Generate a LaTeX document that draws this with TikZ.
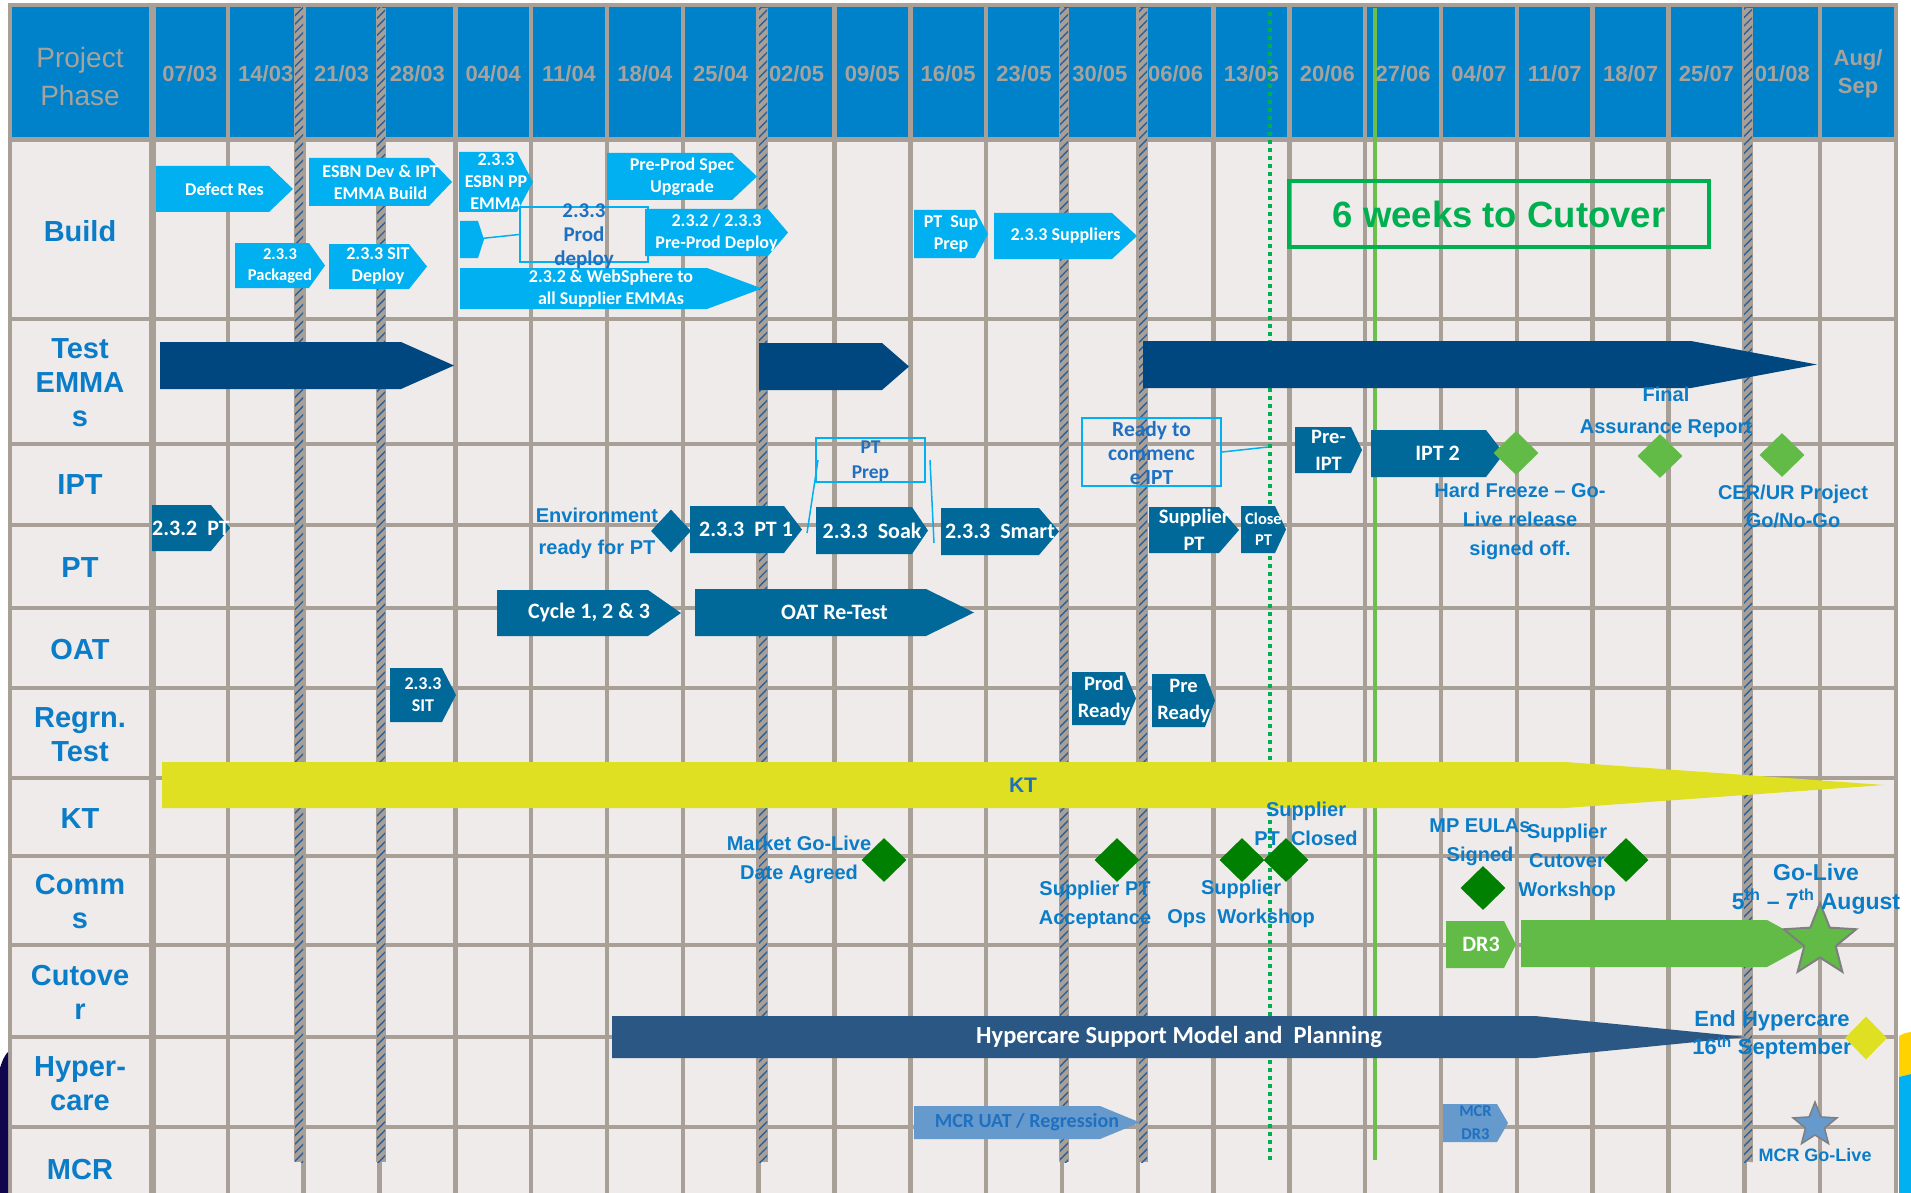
\documentclass[tikz,border=0pt]{standalone}
\usepackage{fontspec}
\setmainfont{Liberation Sans}
\newfontfamily\calf{Carlito}
\usetikzlibrary{shapes.geometric,patterns.meta}

\definecolor{hdrblue}{HTML}{0082CA}
\definecolor{gridc}{HTML}{A89F97}
\definecolor{cellbg}{HTML}{EFEBEA}
\definecolor{hdrtxt}{HTML}{A8A29C}
\definecolor{labblue}{HTML}{0A7CC8}
\definecolor{lblue}{HTML}{00B0F0}
\definecolor{tealb}{HTML}{00699A}
\definecolor{navyb}{HTML}{00467F}
\definecolor{hcblue}{HTML}{2A5783}
\definecolor{ktyel}{HTML}{DEE021}
\definecolor{dgreen}{HTML}{008000}
\definecolor{lgreen}{HTML}{62BB46}
\definecolor{mcrblue}{HTML}{6699CC}
\definecolor{wkgreen}{HTML}{00B050}
\definecolor{vgreen}{HTML}{6CBF4A}
\definecolor{hatchblue}{HTML}{2B5F9A}
\definecolor{boxtxt}{HTML}{1F70C1}
\definecolor{starline}{HTML}{7F7F7F}
\definecolor{decnavy}{HTML}{10064E}
\definecolor{decyel}{HTML}{FFD200}

% #1 fill, #2 text style, #3 name, #4 x1, #5 y1, #6 x slant start, #7 x tip, #8 y2, #9 text
\newcommand\ganttarrow[9]{%
  \fill[#1] (#4,#5) -- (#6,#5) -- (#7,{(#5+#8)/2}) -- (#6,#8) -- (#4,#8) -- cycle;
  \node[#2] (#3) at ({(#4+#7)/2},{(#5+#8)/2}) {#9};}

\tikzset{
  bt/.style={font=\calf\bfseries\fontsize{18}{22}\selectfont, text=white, align=center, inner sep=0pt},
  bts/.style={bt, font=\calf\bfseries\fontsize{16.5}{21}\selectfont},
  btm/.style={bt, font=\calf\bfseries\fontsize{20.5}{27}\selectfont},
  btl/.style={bt, font=\calf\bfseries\fontsize{22}{26}\selectfont},
  bxt/.style={font=\calf\bfseries\fontsize{21}{24}\selectfont, text=boxtxt, align=center, inner sep=0pt},
  hct/.style={bt, font=\calf\bfseries\fontsize{24.5}{28}\selectfont},
  mcrt/.style={font=\calf\bfseries\fontsize{20}{24}\selectfont, text=boxtxt, align=center, inner sep=0pt},
  mcrs/.style={font=\calf\bfseries\fontsize{16.5}{23}\selectfont, text=boxtxt, align=center, inner sep=0pt},
  ktt/.style={font=\bfseries\fontsize{21}{24}\selectfont, text=boxtxt, inner sep=0pt},
  rowlab/.style={font=\bfseries\fontsize{29}{34}\selectfont, text=labblue, align=center, inner sep=0pt},
  hdrdate/.style={font=\bfseries\fontsize{22}{28}\selectfont, text=hdrtxt, align=center, inner sep=0pt},
  hdrmain/.style={font=\fontsize{28}{38}\selectfont, text=hdrtxt, align=center, inner sep=0pt},
  note/.style={font=\bfseries\fontsize{20}{29}\selectfont, text=labblue, align=center, inner sep=0pt},
  noteb/.style={note, font=\bfseries\fontsize{23}{29}\selectfont},
  notes/.style={note, font=\bfseries\fontsize{18}{22}\selectfont},
  outbox/.style={draw=lblue, line width=2pt, inner sep=0pt},
  callout/.style={lblue, line width=1.5pt},
  dia/.style={diamond, minimum width=45pt, minimum height=44pt, inner sep=0pt},
  hatchbar/.style={pattern={Lines[angle=45,distance=6pt,line width=1.4pt]}, pattern color=hatchblue},
}

\begin{document}
\begin{tikzpicture}[x=1pt,y=-1pt]
\useasboundingbox (0,0) rectangle (1911,1193);
\fill[white] (0,0) rectangle (1911,1193);
\fill[cellbg] (9,5) rectangle (1896,1193);
\fill[hdrblue] (9,5) rectangle (1896,140);

% grid
\foreach \i in {1,...,23} \draw[gridc, line width=4.5pt] ({152+\i*75.826},5) -- ({152+\i*75.826},1193);
\draw[gridc, line width=7pt] (152,5) -- (152,1193);
\draw[gridc, line width=4.5pt] (10,5) -- (10,1193);
\foreach \y in {319,444,525,608,688,778,856,945,1037,1127} \draw[gridc, line width=4pt] (9,\y) -- (1896,\y);
\draw[gridc, line width=5pt] (9,140) -- (1896,140);
\draw[gridc, line width=4pt] (8,5.5) -- (1898,5.5);

% edge decorations
\fill[decnavy] (0,1068) .. controls (3,1058) and (6,1054) .. (8,1052) -- (8,1193) -- (0,1193) -- cycle;
\fill[decyel] (1899,1036) .. controls (1905,1033) .. (1911,1032) -- (1911,1074) -- (1899,1077) -- cycle;
\fill[lblue] (1899,1077) -- (1911,1074) -- (1911,1193) -- (1899,1193) -- cycle;

% header
\node[hdrmain] (hpp) at (80,76) {Project\\Phase};
\foreach \d [count=\i from 0] in {07/03,14/03,21/03,28/03,04/04,11/04,18/04,25/04,02/05,09/05,16/05,23/05,30/05,06/06,13/06,20/06,27/06,04/07,11/07,18/07,25/07,01/08}
  \node[hdrdate] (h\i) at ({152+(\i+0.5)*75.826},74) {\d};
\node[hdrdate] (h22) at ({152+22.5*75.826},74) {Aug/\\Sep};

% hatched bars
\foreach \x in {299,381,763,1064,1143,1748} {
  \fill[gridc] (\x-5,8) rectangle (\x+5,1162);
  \fill[hatchbar] (\x-4,8) rectangle (\x+4,1162);
}

% vertical markers
\draw[wkgreen, line width=3.5pt, dash pattern=on 4pt off 4pt] (1270,12) -- (1270,1163);
\draw[vgreen, line width=4pt] (1375,8) -- (1375,1160);

% row labels
\node[rowlab] (rl1) at (80,231) {Build};
\node[rowlab] (rl2) at (80,383) {Test\\EMMA\\s};
\node[rowlab] (rl3) at (80,485) {IPT};
\node[rowlab] (rl4) at (80,568) {PT};
\node[rowlab] (rl5) at (80,650) {OAT};
\node[rowlab] (rl6) at (80,735) {Regrn.\\Test};
\node[rowlab] (rl7) at (80,819) {KT};
\node[rowlab] (rl8) at (80,902) {Comm\\s};
\node[rowlab] (rl9) at (80,992) {Cutove\\r};
\node[rowlab] (rl10) at (80,1084) {Hyper-\\care};
\node[rowlab] (rl11) at (80,1170) {MCR};

% Build row
\ganttarrow{lblue}{bt}{defres}{156}{166}{269}{293}{212}{Defect Res}
\ganttarrow{lblue}{bt}{esbn}{309}{158}{429}{452}{206}{ESBN Dev \& IPT\\EMMA Build}
\ganttarrow{lblue}{bt}{esbnpp}{459}{152}{517}{533}{212}{2.3.3\\ESBN PP\\EMMA}
\ganttarrow{lblue}{bt}{smallarr}{460}{221}{478}{484}{258}{}
\ganttarrow{lblue}{bt}{preprod}{607}{153}{732}{757}{200}{Pre-Prod Spec\\Upgrade}
\ganttarrow{lblue}{bt}{ppdeploy}{645}{209}{768}{788}{256}{2.3.2 / 2.3.3\\Pre-Prod Deploy}
\ganttarrow{lblue}{bts}{packaged}{235}{243}{309}{325}{288}{2.3.3\\Packaged}
\ganttarrow{lblue}{bt}{sitdeploy}{329}{244}{409}{427}{289}{2.3.3 SIT\\Deploy}
\ganttarrow{lblue}{bt}{websphere}{460}{268}{707}{762}{309}{2.3.2 \& WebSphere to\\all Supplier EMMAs}
\ganttarrow{lblue}{bt}{ptsup}{914}{210}{975}{988}{258}{PT\ \ Sup\\Prep}
\ganttarrow{lblue}{bt}{suppliers}{994}{213}{1112}{1137}{259}{2.3.3 Suppliers}
\node[outbox, minimum width=128pt, minimum height=55pt] (pdbox) at (584,234.5) {};
\node[bxt] (pdtext) at (584,236) {2.3.3\\Prod\\deploy};
\draw[callout] (smallarr) -- (pdbox.west);
\node[draw=wkgreen, line width=3.5pt, minimum width=420pt, minimum height=66pt, inner sep=0pt,
      font=\bfseries\fontsize{36.5}{40}\selectfont, text=wkgreen] (sixwk) at (1499,214) {6 weeks to Cutover};

% Test EMMAs
\ganttarrow{navyb}{bt}{te1}{160}{342}{401}{454}{389}{}
\ganttarrow{navyb}{bt}{te2}{759}{343}{882}{909}{390}{}
\ganttarrow{navyb}{bt}{te3}{1143}{341}{1691}{1817}{388}{}

% IPT row
\node[outbox, minimum width=109pt, minimum height=44pt] (ptprep) at (870.5,460) {};
\node[bxt, font=\calf\bfseries\fontsize{19.5}{25}\selectfont] (ptpreptext) at (870.5,461) {PT\\Prep};
\coordinate (ptl) at (807,533);
\coordinate (ptr) at (934,543);
\draw[callout] ([xshift=3pt]ptprep.west) -- (ptl);
\draw[callout] ([xshift=4pt]ptprep.east) -- (ptr);
\node[outbox, minimum width=139pt, minimum height=68pt] (readybox) at (1151.5,452) {};
\node[bxt, font=\calf\bfseries\fontsize{21.5}{24}\selectfont] (readytext) at (1151.5,453) {Ready to\\commenc\\e IPT};
\coordinate (readyend) at (1268,447);
\draw[callout] (readybox.east) -- (readyend);
\ganttarrow{tealb}{btm}{preipt}{1295}{427}{1351}{1362}{473}{Pre-\\IPT}
\ganttarrow{tealb}{btl}{ipt2}{1371}{430}{1486}{1504}{477}{IPT 2}
\node[dia, fill=lgreen] (hfd) at (1516,453) {};
\node[dia, fill=lgreen] (fard) at (1660,456) {};
\node[dia, fill=lgreen] (cerd) at (1782,455) {};
\node[note, font=\bfseries\fontsize{20}{32}\selectfont] (far) at (1666,412) {Final\\Assurance Report};
\node[note] (hf) at (1520,521) {Hard Freeze -- Go-\\Live release\\signed off.};
\node[note, font=\bfseries\fontsize{20}{28}\selectfont] (cer) at (1793,506) {CER/UR Project\\Go/No-Go};

% PT row
\ganttarrow{tealb}{btl}{pt232}{152}{505}{211}{230}{551}{2.3.2\ \ PT}
\node[note, font=\bfseries\fontsize{20}{32}\selectfont] (envt) at (597,533) {Environment\\ready for PT};
\node[dia, fill=tealb, minimum width=40pt, minimum height=43pt] (envd) at (671,531) {};
\ganttarrow{tealb}{btl}{pt1}{690}{506}{784}{802}{553}{2.3.3\ \ PT 1}
\ganttarrow{tealb}{btl}{soak}{816}{507}{912}{928}{554}{2.3.3\ \ Soak}
\ganttarrow{tealb}{btl}{smart}{941}{508}{1039}{1059}{555}{2.3.3\ \ Smart}
\ganttarrow{tealb}{btm}{suppt}{1149}{507}{1219}{1239}{553}{Supplier\\PT}
\ganttarrow{tealb}{bts}{closept}{1241}{506}{1275}{1286}{553}{Close\\PT}

% OAT row
\ganttarrow{tealb}{btl}{cycle}{497}{590}{648}{681}{636}{Cycle 1, 2 \& 3}
\ganttarrow{tealb}{btl}{oat}{695}{589}{926}{974}{636}{OAT Re-Test}

% Regression row
\ganttarrow{tealb}{bt}{sit233}{390}{668}{442}{456}{722}{2.3.3\\SIT}
\ganttarrow{tealb}{btm}{prodready}{1072}{672}{1125}{1136}{725}{Prod\\Ready}
\ganttarrow{tealb}{btm}{preready}{1152}{674}{1205}{1215}{727}{Pre\\Ready}

% KT row
\ganttarrow{ktyel}{ktt}{kt}{162}{762}{1565}{1884}{808}{KT}

% Comms row
\node[note] (mkt) at (799,860) {Market Go-Live\\Date Agreed};
\node[dia, fill=dgreen] (mktd) at (884,860) {};
\node[dia, fill=dgreen] (spad) at (1117,860) {};
\node[note] (spa) at (1095,905) {Supplier PT\\Acceptance};
\node[dia, fill=dgreen] (sowd) at (1242,860) {};
\node[dia, fill=dgreen] (spcd) at (1286,860) {};
\node[note] (sow) at (1241,904) {Supplier\\Ops\ \ Workshop};
\node[note] (spc) at (1306,824) {Supplier\\PT\ \ Closed};
\node[note] (mpe) at (1480,842) {MP EULAs\\Signed};
\node[dia, fill=dgreen] (mped) at (1483,888) {};
\node[note] (scw) at (1567,862) {Supplier\\Cutover\\Workshop};
\node[dia, fill=dgreen] (scwd) at (1626,860) {};

% Cutover row
\ganttarrow{lgreen}{btl}{dr3}{1446}{921}{1504}{1516}{968}{DR3}
\ganttarrow{lgreen}{bt}{cutover}{1521}{920}{1767}{1810}{967}{}
\node[star, star points=5, star point ratio=2.3, minimum size=76pt, inner sep=0pt,
      fill=lgreen, draw=starline, line width=2pt] (golived) at (1820,941) {};
\node[noteb] (golive) at (1816,889) {Go-Live\\5\textsuperscript{th} -- 7\textsuperscript{th} August};

% Hypercare row
\ganttarrow{hcblue}{hct}{hyper}{612}{1016}{1535}{1746}{1058}{Hypercare Support Model and\ \ Planning}
\node[note, font=\bfseries\fontsize{22}{28}\selectfont] (endhc) at (1772,1035) {End Hypercare\\16\textsuperscript{th} September};
\node[dia, fill=ktyel, minimum width=42pt, minimum height=43pt] (endhcd) at (1866,1038) {};

% MCR row
\ganttarrow{mcrblue}{mcrt}{mcruat}{914}{1106}{1100}{1140}{1139}{MCR UAT / Regression}
\ganttarrow{mcrblue}{mcrs}{mcrdr3}{1443}{1104}{1497}{1508}{1142}{MCR\\DR3}
\node[star, star points=5, star point ratio=2.3, minimum size=46pt, inner sep=0pt,
      fill=mcrblue, draw=starline, line width=1.5pt] (mcrstar) at (1815,1125) {};
\node[notes] (mcrgl) at (1815,1155) {MCR Go-Live};
\end{tikzpicture}
\end{document}
